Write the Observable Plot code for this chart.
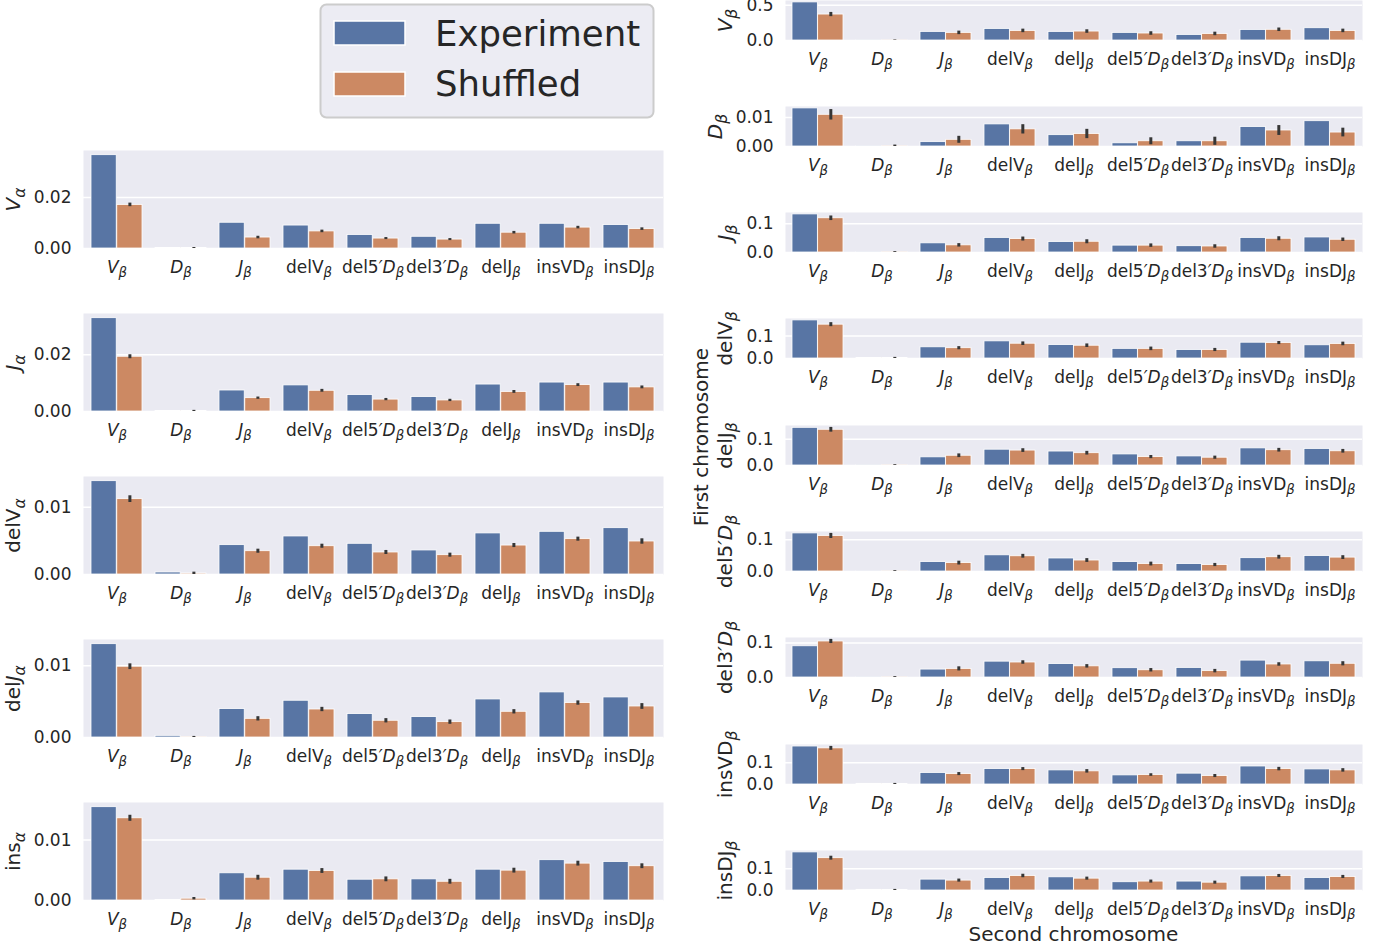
<!DOCTYPE html>
<html><head><meta charset="utf-8">
<script src="https://cdn.jsdelivr.net/npm/d3@7"></script>
<script src="https://cdn.jsdelivr.net/npm/@observablehq/plot@0.6"></script>
<style>
body{margin:0;background:#fff;}
#root{position:relative;width:1385px;height:950px;overflow:hidden;font-family:"DejaVu Sans";color:#262626;}
.panel{position:absolute;}
#overlay{position:absolute;left:0;top:0;pointer-events:none;}
</style></head><body><div id="root"></div>
<script>
// ---------------- data ----------------
const series = ["Experiment", "Shuffled"];
const seriesColors = ["#5875A4", "#CC8963"];
const catsLeft  = ["Vβ","Dβ","Jβ","delVβ","del5′Dβ","del3′Dβ","delJβ","insVDβ","insDJβ"];
const catsRight = ["Vβ","Dβ","Jβ","delVβ","delJβ","del5′Dβ","del3′Dβ","insVDβ","insDJβ"];
const rowsLeft  = ["Vα","Jα","delVα","delJα","insα"];
const rowsRight = ["Vβ","Dβ","Jβ","delVβ","delJβ","del5′Dβ","del3′Dβ","insVDβ","insDJβ"];
const xTitle = "Second chromosome";
const yTitle = "First chromosome";

// left column (rows: Vα, Jα, delVα, delJα, insα)
const expLeft = [
  [0.0366, 0.0002, 0.0101, 0.0090, 0.0053, 0.0046, 0.0097, 0.0097, 0.0092],
  [0.0329, 0.0002, 0.0074, 0.0092, 0.0058, 0.0051, 0.0095, 0.0102, 0.0102],
  [0.01386, 0.0003, 0.00436, 0.00565, 0.00456, 0.00357, 0.0061, 0.00634, 0.00688],
  [0.0130, 0.00023, 0.00396, 0.00512, 0.00326, 0.00284, 0.0053, 0.00628, 0.00558],
  [0.01544, 0.0001, 0.0045, 0.0051, 0.00344, 0.0035, 0.0051, 0.00667, 0.00638]
];
const shufLeft = [
  [0.0171, 0.0002, 0.0043, 0.0067, 0.0039, 0.0035, 0.0062, 0.0082, 0.0076],
  [0.0193, 0.0002, 0.0047, 0.0073, 0.0042, 0.0039, 0.0069, 0.0093, 0.0085],
  [0.01119, 0.00015, 0.00346, 0.0042, 0.00327, 0.00287, 0.0043, 0.00525, 0.0049],
  [0.00986, 0.00005, 0.0026, 0.0039, 0.00233, 0.00214, 0.00358, 0.0048, 0.00432],
  [0.0136, 0.0003, 0.00377, 0.00488, 0.0035, 0.0031, 0.00494, 0.0061, 0.00567]
];
const errLeft = [
  [0.0007, 0.0002, 0.0005, 0.0005, 0.0004, 0.0004, 0.0005, 0.0005, 0.0005],
  [0.0007, 0.0002, 0.0004, 0.0005, 0.0004, 0.0004, 0.0005, 0.0005, 0.0005],
  [0.0005, 0.0002, 0.0003, 0.0003, 0.0003, 0.0003, 0.0003, 0.0003, 0.0004],
  [0.0004, 0.0001, 0.0003, 0.0003, 0.0003, 0.0003, 0.0003, 0.0003, 0.0004],
  [0.0005, 0.0002, 0.0004, 0.0004, 0.0004, 0.0004, 0.0004, 0.0004, 0.0004]
];
const ticksLeft = [[0, 0.02], [0, 0.02], [0, 0.01], [0, 0.01], [0, 0.01]];
const decimalsLeft = [2, 2, 2, 2, 2];

// right column (rows: Vβ … insDJβ)
const expRight = [
  [0.54, 0.002, 0.122, 0.164, 0.122, 0.108, 0.079, 0.150, 0.174],
  [0.0131, 0.0001, 0.0015, 0.0076, 0.0039, 0.0011, 0.0018, 0.0067, 0.0087],
  [0.133, 0.001, 0.032, 0.051, 0.0365, 0.024, 0.022, 0.051, 0.0525],
  [0.170, 0.002, 0.050, 0.0765, 0.060, 0.043, 0.038, 0.0705, 0.059],
  [0.143, 0.001, 0.031, 0.060, 0.053, 0.042, 0.0345, 0.065, 0.063],
  [0.120, 0.0005, 0.0296, 0.051, 0.041, 0.0296, 0.0235, 0.042, 0.049],
  [0.0906, 0.0005, 0.023, 0.046, 0.039, 0.027, 0.0278, 0.049, 0.047],
  [0.175, 0.003, 0.053, 0.071, 0.065, 0.042, 0.050, 0.083, 0.0695],
  [0.175, 0.003, 0.050, 0.0577, 0.0606, 0.038, 0.041, 0.065, 0.0577]
];
const shufRight = [
  [0.368, 0.002, 0.108, 0.136, 0.127, 0.099, 0.093, 0.152, 0.136],
  [0.0109, 0.0001, 0.0023, 0.0059, 0.0043, 0.0018, 0.0018, 0.0055, 0.0048],
  [0.1195, 0.001, 0.025, 0.047, 0.0375, 0.024, 0.021, 0.048, 0.0445],
  [0.151, 0.002, 0.046, 0.066, 0.057, 0.043, 0.038, 0.069, 0.065],
  [0.1356, 0.001, 0.037, 0.0567, 0.0467, 0.032, 0.0296, 0.058, 0.054],
  [0.112, 0.0005, 0.0265, 0.048, 0.0346, 0.0235, 0.0204, 0.045, 0.0438],
  [0.1045, 0.0005, 0.025, 0.0435, 0.0324, 0.021, 0.0185, 0.0378, 0.0398],
  [0.1665, 0.002, 0.048, 0.071, 0.0606, 0.0436, 0.039, 0.071, 0.065],
  [0.1485, 0.002, 0.0455, 0.0667, 0.0545, 0.041, 0.036, 0.0667, 0.0623]
];
const errRight = [
  [0.03, 0.005, 0.025, 0.025, 0.025, 0.025, 0.025, 0.025, 0.025],
  [0.0018, 0.0004, 0.0012, 0.0016, 0.0016, 0.0012, 0.0014, 0.0017, 0.0015],
  [0.008, 0.002, 0.006, 0.007, 0.007, 0.006, 0.006, 0.007, 0.006],
  [0.009, 0.003, 0.007, 0.008, 0.008, 0.008, 0.007, 0.007, 0.008],
  [0.009, 0.002, 0.007, 0.007, 0.007, 0.006, 0.006, 0.007, 0.007],
  [0.008, 0.002, 0.006, 0.006, 0.006, 0.006, 0.005, 0.006, 0.006],
  [0.006, 0.002, 0.006, 0.005, 0.005, 0.005, 0.005, 0.005, 0.006],
  [0.009, 0.003, 0.007, 0.007, 0.008, 0.006, 0.007, 0.008, 0.008],
  [0.009, 0.003, 0.007, 0.008, 0.007, 0.007, 0.007, 0.007, 0.007]
];
const ticksRight = [[0, 0.5], [0, 0.01], [0, 0.1], [0, 0.1], [0, 0.1], [0, 0.1], [0, 0.1], [0, 0.1], [0, 0.1]];
const decimalsRight = [1, 2, 1, 1, 1, 1, 1, 1, 1];

// rich-text rendering of the labels (i = italic, s = subscript)
const richLabels = {
  "Vβ": [["V","i"],["β","si"]],
  "Dβ": [["D","i"],["β","si"]],
  "Jβ": [["J","i"],["β","si"]],
  "delVβ": [["delV",""],["β","si"]],
  "delJβ": [["delJ",""],["β","si"]],
  "del5′Dβ": [["del5",""],["′D","i"],["β","si"]],
  "del3′Dβ": [["del3",""],["′D","i"],["β","si"]],
  "insVDβ": [["insVD",""],["β","si"]],
  "insDJβ": [["insDJ",""],["β","si"]],
  "Vα": [["V","i"],["α","si"]],
  "Jα": [["J","i"],["α","si"]],
  "delVα": [["delV",""],["α","si"]],
  "delJα": [["del",""],["J","i"],["α","si"]],
  "insα": [["ins",""],["α","si"]]
};

// ---------------- layout ----------------
const TEXT = "#262626";
const BG = "#EAEAF2";
const TICK_FS = 17, LABEL_FS = 20;
const left  = {x: 83,  w: 580, top0: 150,  step: 163,   h: 98};
const right = {x: 785, w: 577, top0: -0.5, step: 106.3, h: 40};

const root = document.getElementById("root");
const SVGNS = "http://www.w3.org/2000/svg";

function setRich(textEl, key) {
  const segs = richLabels[key];
  if (!segs) return;
  while (textEl.firstChild) textEl.removeChild(textEl.firstChild);
  for (const [s, k] of segs) {
    const t = document.createElementNS(SVGNS, "tspan");
    t.textContent = s;
    if (k.includes("i")) t.setAttribute("font-style", "italic");
    if (k.includes("s")) { t.setAttribute("font-size", "0.78em"); t.setAttribute("dy", "0.32em"); }
    textEl.appendChild(t);
  }
}

function makePanel(cats, exp, shuf, err, ticks, decimals, ylabel, px, top, w, h) {
  const data = cats.map((c, i) => ({cat: c, exp: exp[i], shuf: shuf[i],
    lo: Math.max(0, shuf[i] - err[i]), hi: shuf[i] + err[i]}));
  const ymax = d3.max(data, d => Math.max(d.exp, d.hi)) * 1.05;
  const mL = 100, mR = 10, mT = 6, mB = 40;
  const bw = w / cats.length * 0.8;
  const fmt = d3.format(`.${decimals}f`);
  const plot = Plot.plot({
    width: mL + w + mR, height: mT + h + mB,
    marginLeft: mL, marginRight: mR, marginTop: mT, marginBottom: mB,
    style: {background: "transparent", overflow: "visible", fontFamily: "DejaVu Sans", fontSize: TICK_FS + "px", color: TEXT},
    x: {domain: cats, paddingInner: 0.2, paddingOuter: 0.1},
    y: {domain: [0, ymax]},
    marks: [
      Plot.frame({fill: BG, stroke: "none"}),
      Plot.gridY(ticks, {stroke: "white", strokeOpacity: 1, strokeWidth: 1.5}),
      Plot.barY(data, {x: "cat", y: "exp", fill: seriesColors[0], insetRight: bw / 2, stroke: "white", strokeWidth: 0.8}),
      Plot.barY(data, {x: "cat", y: "shuf", fill: seriesColors[1], insetLeft: bw / 2, stroke: "white", strokeWidth: 0.8}),
      Plot.ruleX(data, {x: "cat", y1: "lo", y2: "hi", dx: bw / 4, stroke: "#363636", strokeWidth: 3}),
      Plot.axisX({tickSize: 0, tickPadding: 12, label: null}),
      Plot.axisY(ticks, {tickSize: 0, tickPadding: 12, tickFormat: fmt, label: ylabel, labelAnchor: "center", labelArrow: "none", fontSize: TICK_FS})
    ]
  });
  const div = document.createElement("div");
  div.className = "panel";
  div.style.left = (px - mL) + "px";
  div.style.top = (top - mT) + "px";
  div.appendChild(plot);
  root.appendChild(div);

  plot.querySelectorAll('g[aria-label="x-axis tick label"] text').forEach(t => setRich(t, t.textContent));
  const lab = plot.querySelector('g[aria-label="y-axis label"] text');
  if (lab) {
    setRich(lab, ylabel);
    lab.setAttribute("font-size", LABEL_FS);
    lab.setAttribute("text-anchor", "middle");
    lab.removeAttribute("x"); lab.removeAttribute("y"); lab.removeAttribute("dy");
    const yc = mT + h / 2;
    let X = mL - 60;
    lab.setAttribute("transform", `translate(${X},${yc}) rotate(-90)`);
    const tickG = plot.querySelector('g[aria-label="y-axis tick label"]');
    const tr = tickG.getBoundingClientRect();
    const lr = lab.getBoundingClientRect();
    X += (tr.left - 5) - lr.right;
    lab.setAttribute("transform", `translate(${X},${yc}) rotate(-90)`);
  }
}

rowsLeft.forEach((r, i) => makePanel(catsLeft, expLeft[i], shufLeft[i], errLeft[i], ticksLeft[i], decimalsLeft[i], r,
  left.x, left.top0 + left.step * i, left.w, left.h));
rowsRight.forEach((r, i) => makePanel(catsRight, expRight[i], shufRight[i], errRight[i], ticksRight[i], decimalsRight[i], r,
  right.x, right.top0 + right.step * i, right.w, right.h));

// ---------------- overlay: legend + shared titles ----------------
const ov = d3.select(root).append("svg").attr("id", "overlay").attr("width", 1385).attr("height", 950)
  .attr("font-family", "DejaVu Sans").attr("fill", TEXT);
const lg = ov.append("g");
lg.append("rect").attr("x", 320.5).attr("y", 4.5).attr("width", 333).attr("height", 113).attr("rx", 6)
  .attr("fill", "#ECECF3").attr("stroke", "#CCCCCC").attr("stroke-width", 2);
series.forEach((s, i) => {
  lg.append("rect").attr("x", 334).attr("y", 21 + i * 51).attr("width", 71).attr("height", 24)
    .attr("fill", seriesColors[i]).attr("stroke", "white").attr("stroke-width", 1.5);
  lg.append("text").attr("x", 435).attr("y", 46 + i * 50).attr("font-size", 35.5).text(s);
});
ov.append("text").attr("x", right.x + right.w / 2).attr("y", 941).attr("text-anchor", "middle")
  .attr("font-size", LABEL_FS).text(xTitle);
ov.append("text").attr("transform", "translate(708,437) rotate(-90)").attr("text-anchor", "middle")
  .attr("font-size", LABEL_FS).text(yTitle);
</script></body></html>
